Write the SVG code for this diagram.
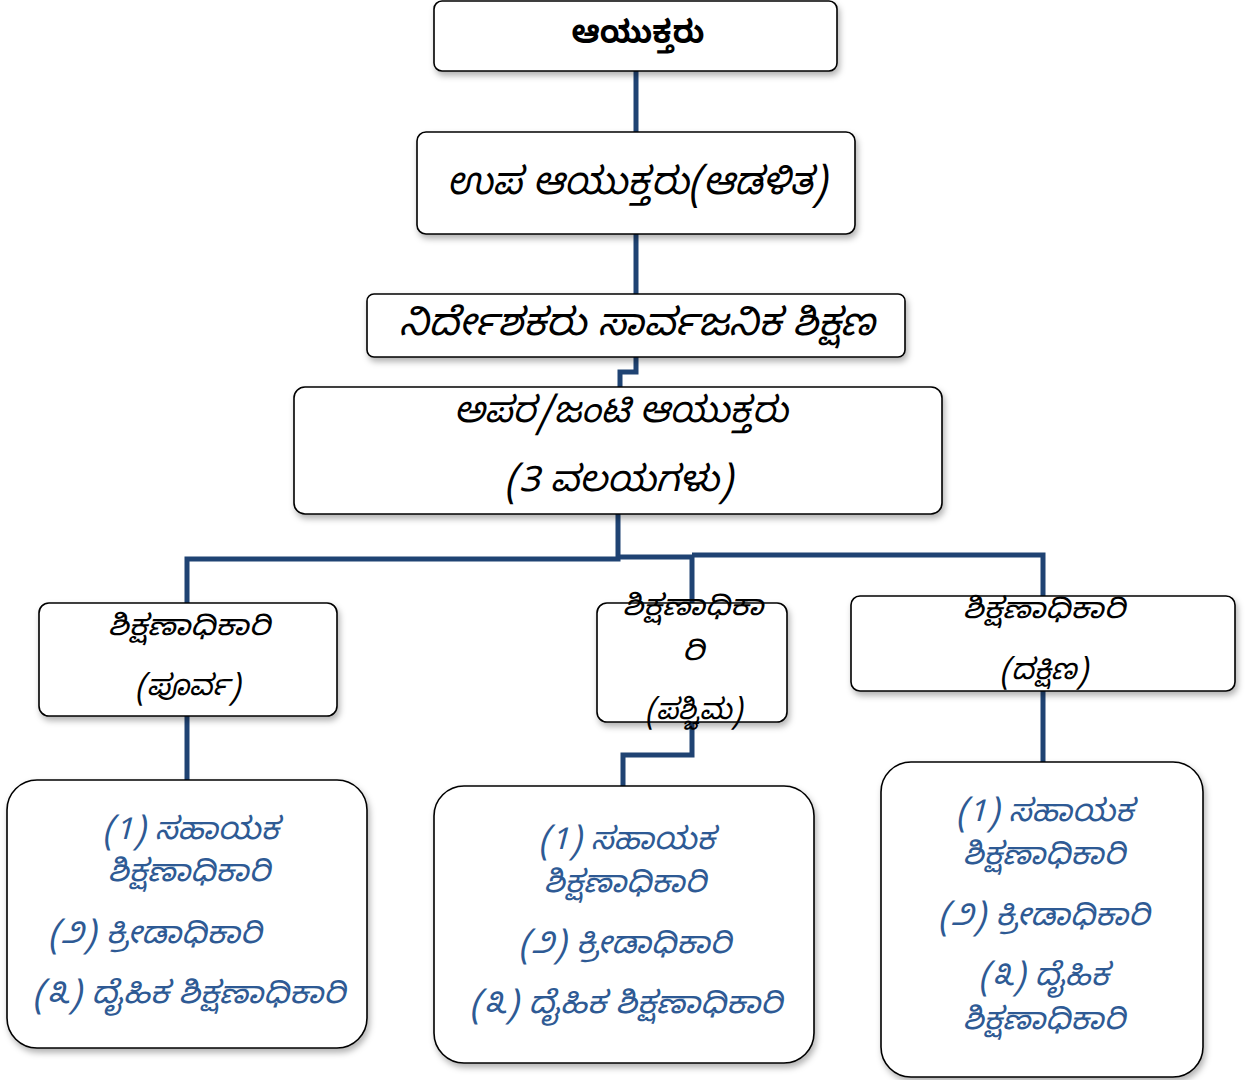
<svg xmlns="http://www.w3.org/2000/svg" width="1247" height="1080" viewBox="0 0 1247 1080">
<defs>
<style>
.box{fill:#fff;stroke:#000;stroke-width:1.6;filter:url(#sh)}
.con{fill:none;stroke:#1F4373;stroke-width:5;stroke-linejoin:miter}
.t{font-family:"Noto Sans Kannada","Noto Sans","DejaVu Sans",sans-serif;text-anchor:middle;font-style:italic;fill:#000}
.h{font-style:normal;font-weight:bold}
.m{font-size:29px}
.b{fill:#2E5A94;font-size:31px}
</style>
<filter id="sh" x="-10%" y="-10%" width="125%" height="130%">
<feDropShadow dx="2" dy="4" stdDeviation="3" flood-color="#000" flood-opacity="0.3"/>
</filter>
</defs>
<rect width="1247" height="1080" fill="#fff"/>
<g id="connectors">
<path class="con" d="M636 71V132"/>
<path class="con" d="M636 234V294"/>
<path class="con" d="M636 357V372H620V387"/>
<path class="con" d="M618 514V559H187V603"/>
<path class="con" d="M618 557H692V610"/>
<path class="con" d="M692 555H1043V596"/>
<path class="con" d="M187 716V780"/>
<path class="con" d="M692 722V755H623V786"/>
<path class="con" d="M1043 691V762"/>
</g>
<g id="n1"><rect class="box" x="434" y="1" width="403" height="70" rx="8"/>
<text class="t h" x="638" y="43" font-size="32" textLength="133" lengthAdjust="spacingAndGlyphs">ಆಯುಕ್ತರು</text></g>
<g id="n2"><rect class="box" x="417" y="132" width="438" height="102" rx="9"/>
<text class="t" x="637" y="194" font-size="38" textLength="380" lengthAdjust="spacingAndGlyphs">ಉಪ ಆಯುಕ್ತರು(ಆಡಳಿತ)</text></g>
<g id="n3"><rect class="box" x="367" y="294" width="538" height="63" rx="7"/>
<text class="t" x="637" y="335" font-size="38" textLength="476" lengthAdjust="spacingAndGlyphs">ನಿರ್ದೇಶಕರು ಸಾರ್ವಜನಿಕ ಶಿಕ್ಷಣ</text></g>
<g id="n4"><rect class="box" x="294" y="387" width="648" height="127" rx="11"/>
<text class="t" x="621" y="422" font-size="36" textLength="334" lengthAdjust="spacingAndGlyphs">ಅಪರ/ಜಂಟಿ ಆಯುಕ್ತರು</text>
<text class="t" x="619" y="491" font-size="36" textLength="228" lengthAdjust="spacingAndGlyphs">(3 ವಲಯಗಳು)</text></g>
<g id="n5"><rect class="box" x="39" y="603" width="298" height="113" rx="10"/>
<text class="t m" x="189" y="635" textLength="162" lengthAdjust="spacingAndGlyphs">ಶಿಕ್ಷಣಾಧಿಕಾರಿ</text>
<text class="t m" x="188" y="695" textLength="105" lengthAdjust="spacingAndGlyphs">(ಪೂರ್ವ)</text></g>
<g id="n6"><rect class="box" x="597" y="603" width="190" height="119" rx="10"/>
<text class="t m" x="693" y="615" textLength="141" lengthAdjust="spacingAndGlyphs">ಶಿಕ್ಷಣಾಧಿಕಾ</text>
<text class="t m" x="693" y="660" textLength="22" lengthAdjust="spacingAndGlyphs">ರಿ</text>
<text class="t m" x="694" y="719" textLength="97" lengthAdjust="spacingAndGlyphs">(ಪಶ್ಚಿಮ)</text></g>
<g id="n7"><rect class="box" x="851" y="596" width="384" height="95" rx="9"/>
<text class="t m" x="1044" y="618" textLength="162" lengthAdjust="spacingAndGlyphs">ಶಿಕ್ಷಣಾಧಿಕಾರಿ</text>
<text class="t m" x="1044" y="679" textLength="88" lengthAdjust="spacingAndGlyphs">(ದಕ್ಷಿಣ)</text></g>
<g id="n8"><rect class="box" x="7" y="780" width="360" height="268" rx="30"/>
<text class="t b" x="191" y="839" textLength="176" lengthAdjust="spacingAndGlyphs">(1) ಸಹಾಯಕ</text>
<text class="t b" x="189" y="881" textLength="162" lengthAdjust="spacingAndGlyphs">ಶಿಕ್ಷಣಾಧಿಕಾರಿ</text>
<text class="t b" x="155" y="943" textLength="213" lengthAdjust="spacingAndGlyphs">(೨) ಕ್ರೀಡಾಧಿಕಾರಿ</text>
<text class="t b" x="189" y="1003" textLength="312" lengthAdjust="spacingAndGlyphs">(೩) ದೈಹಿಕ ಶಿಕ್ಷಣಾಧಿಕಾರಿ</text></g>
<g id="n9"><rect class="box" x="434" y="786" width="380" height="277" rx="30"/>
<text class="t b" x="627" y="849" textLength="176" lengthAdjust="spacingAndGlyphs">(1) ಸಹಾಯಕ</text>
<text class="t b" x="625" y="892" textLength="162" lengthAdjust="spacingAndGlyphs">ಶಿಕ್ಷಣಾಧಿಕಾರಿ</text>
<text class="t b" x="625" y="953" textLength="212" lengthAdjust="spacingAndGlyphs">(೨) ಕ್ರೀಡಾಧಿಕಾರಿ</text>
<text class="t b" x="626" y="1013" textLength="312" lengthAdjust="spacingAndGlyphs">(೩) ದೈಹಿಕ ಶಿಕ್ಷಣಾಧಿಕಾರಿ</text></g>
<g id="n10"><rect class="box" x="881" y="762" width="322" height="315" rx="30"/>
<text class="t b" x="1045" y="821" textLength="177" lengthAdjust="spacingAndGlyphs">(1) ಸಹಾಯಕ</text>
<text class="t b" x="1044" y="864" textLength="162" lengthAdjust="spacingAndGlyphs">ಶಿಕ್ಷಣಾಧಿಕಾರಿ</text>
<text class="t b" x="1044" y="925" textLength="211" lengthAdjust="spacingAndGlyphs">(೨) ಕ್ರೀಡಾಧಿಕಾರಿ</text>
<text class="t b" x="1044" y="985" textLength="130" lengthAdjust="spacingAndGlyphs">(೩) ದೈಹಿಕ</text>
<text class="t b" x="1044" y="1029" textLength="162" lengthAdjust="spacingAndGlyphs">ಶಿಕ್ಷಣಾಧಿಕಾರಿ</text></g>
</svg>
